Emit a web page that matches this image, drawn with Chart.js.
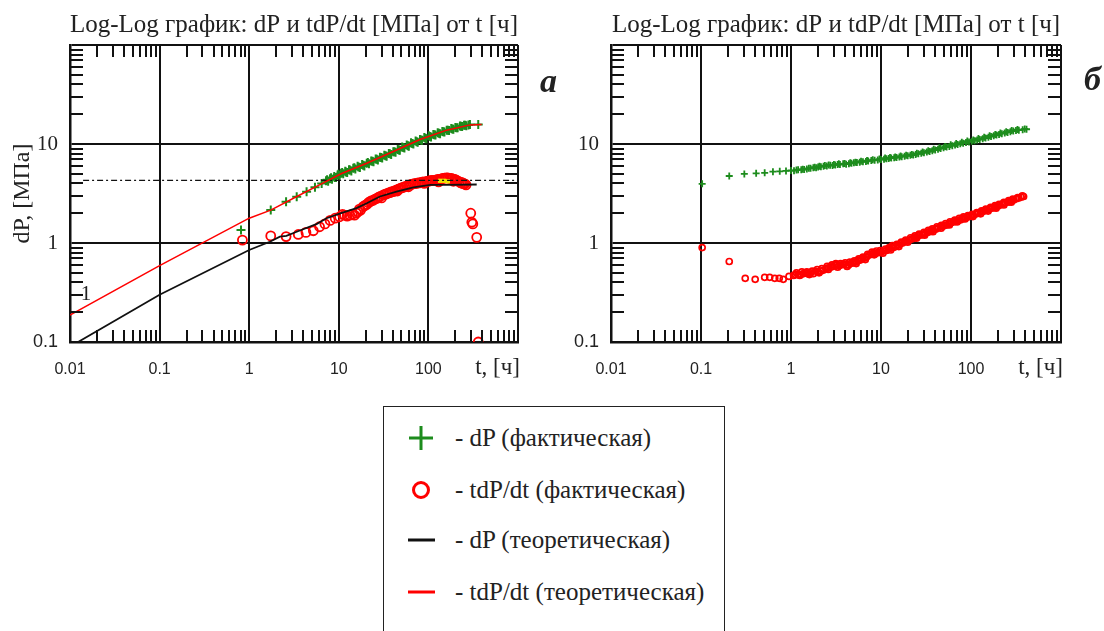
<!DOCTYPE html>
<html lang="ru">
<head>
<meta charset="utf-8">
<title>Log-Log график</title>
<script src="https://cdn.jsdelivr.net/npm/chart.js@4.4.0/dist/chart.umd.min.js"></script>
<style>
  html, body { margin: 0; padding: 0; background: #fff; }
  #page { position: relative; width: 1104px; height: 631px; overflow: hidden;
          font-family: "Liberation Serif", "Times New Roman", serif; color: #222; }
  .wrap { position: absolute; top: 0; height: 400px; }
  #wrapA { left: 0; width: 560px; }
  #wrapB { left: 560px; width: 544px; }
  .tag { position: absolute; font: italic bold 34px "Liberation Serif", serif; line-height: 1; }
  #legend { position: absolute; left: 383px; top: 406px; width: 340px; height: 260px;
            border: 1.5px solid #222; }
  .row { position: absolute; left: 0; height: 30px; line-height: 30px; font-size: 25px; }
  .row svg { position: absolute; left: 23px; top: 1px; }
  .row span { position: absolute; left: 71px; white-space: nowrap; }
</style>
</head>
<body>
<div id="page">
  <div class="wrap" id="wrapA"><canvas id="chartA"></canvas></div>
  <div class="wrap" id="wrapB"><canvas id="chartB"></canvas></div>
  <div class="tag" style="left:540px; top:64px;">а</div>
  <div class="tag" style="left:1084px; top:62px;">б</div>

  <div id="legend">
    <div class="row" style="top:16px;">
      <svg width="28" height="28"><path d="M14 2 V26 M2 14 H26" stroke="#1d8c1d" stroke-width="3"/></svg>
      <span>- dP (фактическая)</span>
    </div>
    <div class="row" style="top:68px;">
      <svg width="28" height="28"><circle cx="14" cy="14" r="7.5" fill="none" stroke="#ff0000" stroke-width="3"/></svg>
      <span>- tdP/dt (фактическая)</span>
    </div>
    <div class="row" style="top:118px;">
      <svg width="28" height="28"><path d="M1 14 H28" stroke="#111" stroke-width="3"/></svg>
      <span>- dP (теоретическая)</span>
    </div>
    <div class="row" style="top:170px;">
      <svg width="28" height="28"><path d="M1 14 H28" stroke="#ff0000" stroke-width="3"/></svg>
      <span>- tdP/dt (теоретическая)</span>
    </div>
  </div>
</div>

<script>
// --- оси и подписи ---
const xTicks = [0.01, 0.1, 1, 10, 100, 1000];
const xTickLabels = ['0.01', '0.1', '1', '10', '100', ''];
const yTicks = [0.1, 1, 10, 100];
const yTickLabels = ['0.1', '1', '10', ''];
const chartTitle = 'Log-Log график: dP и tdP/dt [МПа] от t [ч]';
const xAxisName = 't, [ч]';
const yAxisName = 'dP, [МПа]';

// --- график а: [t, значение] ---
const aDpFact = [
  [0.81, 1.35], [1.74, 2.15], [2.58, 2.61], [3.39, 2.94], [4.37, 3.30], [5.42, 3.65], [6.44, 4.0],
  [7.2, 4.25], [7.6, 4.2], [7.98, 4.46], [8.4, 4.4], [8.9, 4.7], [9.3, 4.6], [9.7, 4.85], [10.2, 4.8],
  [10.6, 5.06], [11.2, 5.0], [11.8, 5.3], [12.4, 5.15], [13.0, 5.5], [13.8, 5.35], [14.5, 5.68],
  [15.3, 5.6], [16.2, 5.95], [17.2, 5.8], [18.2, 6.2], [19.3, 6.0], [20.5, 6.38], [21.7, 6.3],
  [23.0, 6.75], [24.4, 6.6], [25.8, 7.05], [27.3, 6.9], [28.8, 7.34], [30.5, 7.2], [32.2, 7.7],
  [34.2, 7.5], [36.2, 8.0], [38.4, 7.85], [40.6, 8.36], [43, 8.25], [45.5, 8.8], [48, 8.65],
  [51, 9.3], [54, 9.1], [57.3, 9.77], [60.5, 9.5], [64, 10.3], [68, 10.0], [72, 10.7], [76, 10.4],
  [80.6, 11.1], [85, 10.9], [90, 11.6], [95, 11.3], [101, 12.1], [107, 11.8], [113.5, 12.5],
  [120, 12.3], [127, 13.0], [135, 12.7], [143, 13.4], [151, 13.2], [160, 13.8], [170, 13.7],
  [180, 14.3], [190, 14.1], [200, 14.7], [212, 14.6], [225, 15.2], [238, 15.0], [250, 15.5],
  [265, 15.3], [291, 15.7], [360, 15.7],
  [7.4, 4.35], [8.2, 4.55], [9.0, 4.6], [9.9, 4.95], [10.9, 5.15], [12.0, 5.2], [13.3, 5.45],
  [14.9, 5.75], [16.6, 5.85], [18.7, 6.1], [21.1, 6.5], [23.7, 6.7], [26.5, 7.0], [29.6, 7.3],
  [33.2, 7.6], [37.2, 7.95], [41.7, 8.35], [46.8, 8.7], [52.5, 9.2], [58.9, 9.6], [66, 10.1],
  [74, 10.55], [83, 11.0], [92.5, 11.4], [104, 11.9], [116.5, 12.4], [131, 12.85], [147, 13.3],
  [165, 13.75], [185, 14.2], [206, 14.6], [231, 15.1], [258, 15.45], [280, 15.6]
];
const aDerFact = [
  [0.84, 1.07], [1.74, 1.18], [2.58, 1.16], [3.53, 1.22], [4.3, 1.28], [5.2, 1.33], [6.1, 1.46],
  [7.0, 1.56], [8.0, 1.69], [9.1, 1.78], [10.2, 1.84], [11.6, 1.91], [13.2, 1.91], [15.0, 1.91],
  [16.4, 2.07], [17.5, 2.15], [18.7, 2.33], [20.5, 2.45], [22.3, 2.62], [24.3, 2.7], [26.6, 2.82],
  [29, 2.95], [30, 2.85], [31.5, 3.06], [34.3, 3.15], [37.3, 3.22], [40.6, 3.3], [44.2, 3.43],
  [45, 3.35], [48, 3.55], [52, 3.65], [57, 3.75], [60, 3.7], [62, 3.86], [67.5, 3.95], [73.5, 4.0],
  [80, 4.05], [87, 4.15], [90, 4.0], [95, 4.2], [103, 4.23], [112, 4.3], [122, 4.33], [130, 4.15],
  [133, 4.4], [145, 4.5], [158, 4.55], [172, 4.5], [187, 4.45], [190, 4.2], [203, 4.33],
  [222, 4.15], [230, 4.05], [241, 4.0], [255, 3.95], [263, 3.86],
  [11.0, 1.95], [12.4, 1.87], [14.1, 1.95], [15.7, 2.0], [17, 2.2], [19.6, 2.4], [21.4, 2.55],
  [23.3, 2.68], [25.4, 2.78], [27.8, 2.9], [32.8, 3.1], [35.8, 3.2], [39, 3.3], [42.4, 3.38],
  [46.5, 3.5], [50, 3.6], [54.5, 3.7], [64.5, 3.9], [70.5, 3.97], [76.5, 4.05], [83.5, 4.1],
  [99, 4.22], [107.5, 4.28], [117, 4.3], [127.5, 4.38], [139, 4.45], [151, 4.52], [165, 4.55],
  [180, 4.5], [196, 4.4], [212, 4.25], [235, 4.1], [248, 3.98],
  [297, 2.0], [305, 1.62], [313, 1.56], [346, 1.14], [360, 0.1]
];
const aDpTheory = [
  [0.0123, 0.1], [0.1, 0.30], [1, 0.85], [1.7, 1.03], [2.2, 1.16], [2.6, 1.18], [3.39, 1.30],
  [5.7, 1.56], [7.3, 1.78], [10.6, 2.0], [15.8, 2.25], [20.5, 2.52], [28.8, 2.95], [44, 3.3],
  [68, 3.65], [105, 3.86], [160, 3.86], [346, 3.9]
];
const aDerTheory = [
  [0.01, 0.187], [0.1, 0.59], [1, 1.78], [1.74, 2.15], [3.4, 2.95], [6.4, 3.95], [10.6, 5.0],
  [20.5, 6.4], [40.6, 8.4], [80.6, 11.1], [160, 13.8], [291, 15.6], [393, 15.7]
];
const aMarked = [[135, 4.25], [150, 4.25], [165, 4.2]];
const aLevel = [[0.014, 4.3], [1000, 4.3]];

// --- график б ---
const bDpFact = [
  [0.103, 3.96], [0.206, 4.75], [0.303, 4.98], [0.41, 5.05], [0.51, 5.12], [0.63, 5.25], [0.75, 5.3],
  [0.88, 5.35], [1.0, 5.4], [1.15, 5.45], [1.3, 5.5], [1.5, 5.6], [1.77, 5.77], [2.0, 5.85],
  [2.3, 5.95], [2.73, 6.1], [3.1, 6.15], [3.5, 6.2], [4.1, 6.25], [4.7, 6.4], [5.4, 6.5], [6.3, 6.6],
  [7.2, 6.75], [8.5, 6.85], [10, 6.97], [11.5, 7.1], [13, 7.2], [14.9, 7.3], [17, 7.45], [19.8, 7.6],
  [22.8, 7.73], [26, 7.95], [30, 8.15], [34.7, 8.4], [40, 8.7], [46, 9.0], [53.6, 9.3], [62, 9.6],
  [71, 9.9], [81.8, 10.2], [95, 10.5], [110, 10.8], [125, 11.1], [145, 11.5], [167, 11.9],
  [192, 12.3], [220, 12.7], [255, 13.1], [295, 13.5], [340, 13.8], [414, 14.1],
  [1.08, 5.38], [1.4, 5.52], [1.65, 5.68], [1.9, 5.75], [2.15, 5.9], [2.5, 6.0], [2.9, 6.05],
  [3.3, 6.2], [3.8, 6.3], [4.4, 6.3], [5.0, 6.45], [5.8, 6.55], [6.8, 6.65], [7.8, 6.8], [9.2, 6.9],
  [10.8, 7.0], [12.2, 7.15], [14, 7.25], [16, 7.4], [18.3, 7.5], [21.2, 7.7], [24.3, 7.85],
  [28, 8.05], [32.3, 8.3], [37.2, 8.55], [43, 8.85], [49.6, 9.15], [57.5, 9.45], [66.5, 9.75],
  [76, 10.05], [88, 10.35], [102, 10.65], [117, 10.95], [135, 11.3], [156, 11.7], [179, 12.1],
  [205, 12.5], [237, 12.9], [274, 13.3], [316, 13.65], [375, 13.95],
  [1.2, 5.5], [1.35, 5.55], [1.58, 5.7], [1.83, 5.82], [2.07, 5.95], [2.38, 6.05], [2.62, 6.15],
  [3.0, 6.2], [3.4, 6.3], [3.95, 6.35], [4.55, 6.45], [5.2, 6.55], [6.0, 6.7], [7.0, 6.8],
  [8.1, 6.95], [9.6, 7.05], [11.1, 7.2], [12.6, 7.3], [14.4, 7.4], [16.5, 7.55], [19, 7.7],
  [22, 7.85], [25, 8.05], [29, 8.3], [33.5, 8.55], [38.5, 8.85], [44.5, 9.15], [51.5, 9.45],
  [59.5, 9.8], [68.5, 10.1], [79, 10.4], [91, 10.7], [106, 11.0], [121, 11.35], [140, 11.7],
  [161, 12.1], [186, 12.5], [212, 12.9], [246, 13.3], [283, 13.7], [328, 14.0], [395, 14.2]
];
const bDerFact = [
  [0.103, 0.90], [0.206, 0.65], [0.31, 0.44], [0.40, 0.43], [0.51, 0.45], [0.58, 0.45], [0.66, 0.44],
  [0.74, 0.44], [0.82, 0.43], [0.95, 0.46], [1.07, 0.47], [1.2, 0.48], [1.37, 0.49], [1.55, 0.49],
  [1.77, 0.49], [2.0, 0.51], [2.27, 0.53], [2.6, 0.56], [2.9, 0.58], [3.2, 0.6], [3.6, 0.6],
  [4.1, 0.6], [4.6, 0.62], [5.2, 0.64], [5.8, 0.67], [6.5, 0.7], [7.3, 0.75], [8.2, 0.79], [9.1, 0.8],
  [10, 0.81], [11.5, 0.84], [12.5, 0.88], [13.7, 0.9], [15.5, 0.95], [17.3, 1.0], [19.3, 1.05],
  [22, 1.1], [24.5, 1.15], [27.2, 1.2], [31, 1.25], [34.5, 1.3], [38, 1.35], [43, 1.42], [48, 1.47],
  [53.6, 1.52], [60, 1.6], [68, 1.66], [75.9, 1.71], [85, 1.8], [95, 1.85], [106, 1.91], [120, 2.0],
  [135, 2.08], [150, 2.16], [170, 2.25], [190, 2.33], [211, 2.42], [240, 2.55], [270, 2.62],
  [298, 2.72], [340, 2.85], [384, 2.95],
  [1.12, 0.48], [1.28, 0.48], [1.46, 0.5], [1.66, 0.5], [1.88, 0.52], [2.13, 0.52], [2.45, 0.55],
  [2.75, 0.57], [3.05, 0.6], [3.4, 0.59], [3.85, 0.61], [4.35, 0.6], [4.9, 0.63], [5.5, 0.66],
  [6.1, 0.69], [6.9, 0.72], [7.7, 0.77], [8.6, 0.78], [9.5, 0.8], [10.8, 0.83], [12, 0.87],
  [13.1, 0.91], [14.6, 0.92], [16.4, 0.98], [18.3, 1.03], [20.6, 1.07], [23.2, 1.12], [25.8, 1.18],
  [29, 1.22], [32.7, 1.28], [36.2, 1.33], [40.5, 1.38], [45.5, 1.45], [50.8, 1.5], [56.8, 1.56],
  [64, 1.63], [72, 1.69], [80, 1.75], [90, 1.82], [100, 1.88], [113, 1.96], [127, 2.04],
  [142, 2.12], [160, 2.2], [180, 2.29], [200, 2.37], [225, 2.48], [255, 2.58], [284, 2.67],
  [320, 2.8], [360, 2.9],
  [1.15, 0.5], [1.32, 0.51], [1.5, 0.51], [1.72, 0.52], [1.95, 0.54], [2.2, 0.55], [2.52, 0.58],
  [2.85, 0.6], [3.15, 0.62], [3.55, 0.62], [4.0, 0.63], [4.5, 0.64], [5.05, 0.66], [5.65, 0.69],
  [6.3, 0.72], [7.1, 0.77], [7.95, 0.81], [8.9, 0.83], [9.8, 0.84], [11.2, 0.87], [12.3, 0.9],
  [13.4, 0.94], [15, 0.97], [16.8, 1.02], [18.8, 1.07], [21.3, 1.13], [23.8, 1.18], [26.5, 1.23],
  [30, 1.28], [33.6, 1.34], [37.2, 1.39], [41.8, 1.46], [46.8, 1.51], [52.2, 1.57], [58.4, 1.64],
  [66, 1.7], [74, 1.77], [82.5, 1.84], [92.5, 1.89], [103, 1.95], [116, 2.03], [131, 2.11],
  [146, 2.2], [165, 2.29], [185, 2.38], [205, 2.46], [232, 2.57], [262, 2.68], [291, 2.78],
  [330, 2.88], [372, 3.0],
  [1.25, 0.47], [1.6, 0.48], [2.05, 0.5], [2.6, 0.54], [3.3, 0.57], [4.2, 0.58], [5.3, 0.62],
  [6.7, 0.68], [8.4, 0.76], [10.5, 0.79], [12.8, 0.85], [15.8, 0.92], [19.8, 1.02], [24.8, 1.12],
  [30.5, 1.2], [37.8, 1.3], [46.5, 1.41], [57.5, 1.52], [70, 1.63], [86, 1.75], [105, 1.85],
  [128, 1.97], [155, 2.1], [190, 2.25], [232, 2.42], [280, 2.58]
];

const GREEN = '#1d8c1d';
const RED = '#ff0000';
const INK = '#111';
const SERIF = '"Liberation Serif", "Times New Roman", serif';
const SANS = '"Liberation Sans", Arial, sans-serif';

const pts = arr => arr.map(p => ({ x: p[0], y: p[1] }));

Chart.defaults.font.family = SERIF;
Chart.defaults.color = '#222';

// мелкие засечки по рамке + подпись оси t
const frameTicks = {
  id: 'frameTicks',
  afterDraw(chart, args, opts) {
    const { ctx, chartArea: a, scales: { x, y } } = chart;
    ctx.save();
    ctx.strokeStyle = INK;
    ctx.lineWidth = 2;
    ctx.beginPath();
    for (let i = 0; i < xTicks.length - 1; i++) {
      for (let k = 2; k <= 9; k++) {
        const px = Math.round(x.getPixelForValue(xTicks[i] * k));
        ctx.moveTo(px, a.top); ctx.lineTo(px, a.top + 12);
        ctx.moveTo(px, a.bottom); ctx.lineTo(px, a.bottom - 12);
      }
    }
    for (let i = 0; i < yTicks.length - 1; i++) {
      for (let k = 2; k <= 9; k++) {
        const py = Math.round(y.getPixelForValue(yTicks[i] * k));
        ctx.moveTo(a.left, py); ctx.lineTo(a.left + 13, py);
        ctx.moveTo(a.right, py); ctx.lineTo(a.right - 13, py);
      }
    }
    ctx.stroke();

    ctx.fillStyle = '#222';
    ctx.font = '23px ' + SERIF;
    ctx.textAlign = 'right';
    ctx.textBaseline = 'middle';
    ctx.fillText(xAxisName, a.right + 2, a.bottom + 26);

    if (opts.note) {
      ctx.font = '21px ' + SERIF;
      ctx.textAlign = 'center';
      ctx.fillText(opts.note.text, x.getPixelForValue(opts.note.t), y.getPixelForValue(opts.note.v));
    }
    ctx.restore();
  }
};

function buildScales(yWidth, withTitle) {
  return {
    x: {
      type: 'logarithmic',
      min: xTicks[0],
      max: xTicks[xTicks.length - 1],
      afterBuildTicks: s => { s.ticks = xTicks.map(v => ({ value: v })); },
      afterFit: s => { s.height = 58; },
      grid: { color: INK, lineWidth: 2, drawTicks: false },
      border: { color: INK, width: 2.5 },
      ticks: {
        padding: 18, autoSkip: false, maxRotation: 0, color: '#222',
        font: { family: SANS, size: 16 },
        callback: (v, i) => xTickLabels[i]
      }
    },
    y: {
      type: 'logarithmic',
      min: yTicks[0],
      max: yTicks[yTicks.length - 1],
      afterBuildTicks: s => { s.ticks = yTicks.map(v => ({ value: v })); },
      afterFit: s => { s.width = yWidth; },
      grid: { color: INK, lineWidth: 2, drawTicks: false },
      border: { color: INK, width: 2.5 },
      title: {
        display: withTitle, text: yAxisName, color: '#222',
        font: { family: SERIF, size: 24 }, padding: { top: 8, bottom: 0 }
      },
      ticks: {
        padding: 12, autoSkip: false, color: '#222',
        font: c => (c.tick && c.tick.value === 0.1) ? { family: SANS, size: 18 } : { family: SERIF, size: 21 },
        callback: (v, i) => yTickLabels[i]
      }
    }
  };
}

function baseOptions(yWidth, withTitle, rightPad, note) {
  return {
    responsive: true,
    maintainAspectRatio: false,
    animation: false,
    devicePixelRatio: 1,
    layout: { padding: { left: 0, right: rightPad, top: 0, bottom: 0 } },
    plugins: {
      legend: { display: false },
      tooltip: { enabled: false },
      title: {
        display: true, text: chartTitle, fullSize: false, color: '#222',
        font: { family: SERIF, size: 25, weight: 'normal' },
        padding: { top: 10, bottom: 5 }
      },
      frameTicks: { note: note }
    },
    scales: buildScales(yWidth, withTitle)
  };
}

new Chart(document.getElementById('chartA'), {
  type: 'scatter',
  data: {
    datasets: [
      { label: 'tdP/dt (теоретическая)', data: pts(aDerTheory), showLine: true, pointRadius: 0,
        borderColor: RED, borderWidth: 1.5 },
      { label: 'dP (теоретическая)', data: pts(aDpTheory), showLine: true, pointRadius: 0,
        borderColor: INK, borderWidth: 1.8 },
      { label: 'уровень', data: pts(aLevel), showLine: true, pointRadius: 0,
        borderColor: INK, borderWidth: 1.2, borderDash: [6, 3, 2, 3] },
      { label: 'отметка', data: pts(aMarked), pointStyle: 'rect', pointRadius: 3,
        backgroundColor: '#f2e600', borderColor: '#f2e600', borderWidth: 0 },
      { label: 'dP (фактическая)', data: pts(aDpFact), pointStyle: 'cross', pointRadius: 4.5,
        borderColor: GREEN, borderWidth: 2 },
      { label: 'tdP/dt (фактическая)', data: pts(aDerFact), pointStyle: 'circle', pointRadius: 4.5,
        backgroundColor: 'rgba(255,255,255,0)', borderColor: RED, borderWidth: 1.8 }
    ]
  },
  options: baseOptions(70, true, 42, { t: 0.0151, v: 0.30, text: '1' }),
  plugins: [frameTicks]
});

new Chart(document.getElementById('chartB'), {
  type: 'scatter',
  data: {
    datasets: [
      { label: 'dP (фактическая)', data: pts(bDpFact), pointStyle: 'cross', pointRadius: 3.5,
        borderColor: GREEN, borderWidth: 1.8 },
      { label: 'tdP/dt (фактическая)', data: pts(bDerFact), pointStyle: 'circle', pointRadius: 3,
        backgroundColor: 'rgba(255,255,255,0)', borderColor: RED, borderWidth: 1.7 }
    ]
  },
  options: baseOptions(51, false, 43, null),
  plugins: [frameTicks]
});
</script>
</body>
</html>
